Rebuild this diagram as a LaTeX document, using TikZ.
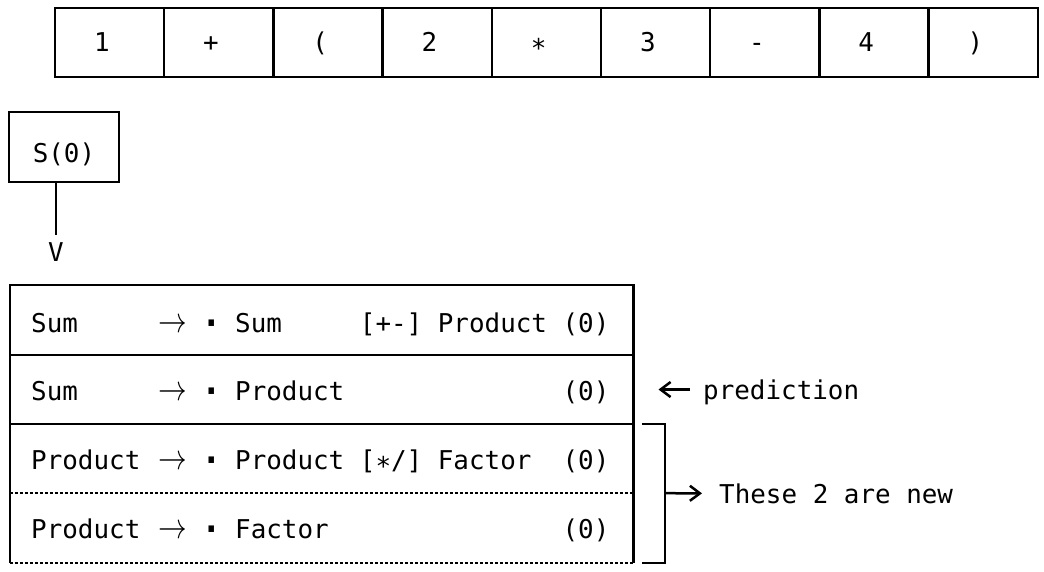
\documentclass[tikz,border=0pt]{standalone}
\usepackage{fontspec}
\usepackage{graphicx}
\setmainfont{DejaVu Sans Mono}
\usetikzlibrary{arrows.meta}
\newcommand\myfs{\fontsize{25.9}{30}\selectfont}
\newcommand\tok[1]{\hspace*{-15.6pt}\makebox[15.6pt]{#1}}
\newcommand\lowstar{\raisebox{-6pt}{*}}
\newcommand\bdot{\makebox[15.6pt]{\raisebox{-6.5pt}{\scalebox{1.7}{·}}}}
\newcommand\rarr{\scalebox{1.15}[1.45]{$\rightarrow$}}
\begin{document}
\begin{tikzpicture}[x=1pt,y=-1pt,
  ln/.style={line width=2.5pt},
  dotln/.style={line width=2.5pt, dash pattern=on 3pt off 2pt},
  arr/.style={line width=2.5pt, -{Straight Barb[length=10pt,width=15pt]}},
  cell/.style={draw, line width=2.5pt, minimum width=109.2pt, minimum height=69pt, inner sep=0pt, text height=18.9pt, text depth=0pt, font=\myfs},
  txt/.style={inner sep=0pt, font=\myfs},
  rowbox/.style={minimum width=623.3pt, inner sep=0pt},
]
\useasboundingbox (0,0) rectangle (1044,571);

% token strip
\node[cell] (c1) at (109.6,42.5) {\tok{1}};
\node[cell] (c2) at (218.8,42.5) {\tok{+}};
\node[cell] (c3) at (328.0,42.5) {\tok{(}};
\node[cell] (c4) at (437.2,42.5) {\tok{2}};
\node[cell] (c5) at (546.4,42.5) {\tok{\lowstar}};
\node[cell] (c6) at (655.6,42.5) {\tok{3}};
\node[cell] (c7) at (764.8,42.5) {\tok{-}};
\node[cell] (c8) at (874.0,42.5) {\tok{4}};
\node[cell] (c9) at (983.2,42.5) {\tok{)}};

% S(0) box and arrow
\node[draw, line width=2.5pt, minimum width=110pt, minimum height=70pt, inner sep=0pt,
      text height=30pt, text depth=0pt, font=\myfs] (s) at (64,147) {S(0)};
\node[txt, anchor=base] (v) at (56,261) {V};
\draw[ln] (s.south -| v.north) -- ([yshift=7pt]v.north);

% state set rows
\node[rowbox, minimum height=70pt] (r1) at (321.65,320) {};
\node[rowbox, minimum height=69pt] (r2) at (321.65,389.5) {};
\node[rowbox, minimum height=69pt] (r3) at (321.65,458.5) {};
\node[rowbox, minimum height=70pt] (r4) at (321.65,528) {};
\draw[ln] (r1.north west) rectangle (r2.south east);
\draw[ln] (r1.south west) -- (r1.south east);
\draw[ln] (r3.north west) -- (r4.south west) (r3.north east) -- (r4.south east);
\draw[dotln] (r3.south west) -- (r3.south east) (r4.south west) -- (r4.south east);

\node[txt, anchor=base west] (l1) at (31,332) {Sum};
\node[txt, anchor=base] (a1) at (173,332) {\rarr};
\node[txt, anchor=base west] (x1) at (203.8,332) {\bdot~Sum~~~~~[+-]~Product~(0)};

\node[txt, anchor=base west] (l2) at (31,400) {Sum};
\node[txt, anchor=base] (a2) at (173,400) {\rarr};
\node[txt, anchor=base west] (x2) at (203.8,400) {\bdot~Product~~~~~~~~~~~~~~(0)};

\node[txt, anchor=base west] (l3) at (31,469) {Product};
\node[txt, anchor=base] (a3) at (173,469) {\rarr};
\node[txt, anchor=base west] (x3) at (203.8,469) {\bdot~Product~[\lowstar/]~Factor~~(0)};

\node[txt, anchor=base west] (l4) at (31,538) {Product};
\node[txt, anchor=base] (a4) at (173,538) {\rarr};
\node[txt, anchor=base west] (x4) at (203.8,538) {\bdot~Factor~~~~~~~~~~~~~~~(0)};

% annotations
\node[txt, anchor=base west] (pred) at (703,399.5) {prediction};
\draw[arr] ([xshift=-13pt]pred.west |- r2.east) -- ([xshift=25pt]r2.east);

\node[txt, anchor=base west] (new) at (719,503) {These 2 are new};
\draw[ln] ([xshift=8.4pt]r3.north east) -- ++(23.3,0) |- ([xshift=8.4pt]r4.south east);
\draw[arr] ([xshift=31.7pt]r3.south east) -- ([xshift=-17pt]new.west);
\end{tikzpicture}
\end{document}
